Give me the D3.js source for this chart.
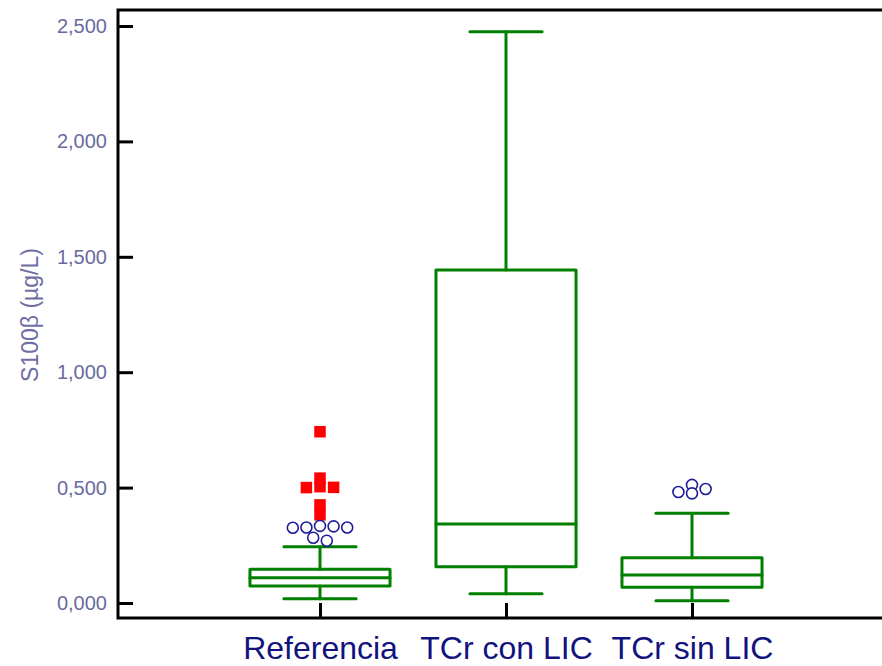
<!DOCTYPE html>
<html>
<head>
<meta charset="utf-8">
<script src="https://cdn.jsdelivr.net/npm/d3@7"></script>
<style>
  html, body { margin: 0; padding: 0; background: #fff; }
  svg { display: block; }
</style>
</head>
<body>
<svg id="chart" width="882" height="666"></svg>
<script>
// S100β by group: box-and-whisker summary plus outlying observations
const categories   = ["Referencia", "TCr con LIC", "TCr sin LIC"];
const whiskerLow   = [18, 40, 10];
const q1           = [74, 157, 68];
const median       = [109, 342, 121];
const q3           = [146, 1443, 196];
const whiskerHigh  = [244, 2475, 389];
// outside values (open circles) and far-out values (filled squares)
const outsideValues = [[334, 332, 327, 327, 326, 283, 270], [], [512, 494, 481, 475]];
const farOutValues  = [[742, 541, 504, 501, 500, 425, 382], [], []];
const yTickValues = [0, 500, 1000, 1500, 2000, 2500];
const yTickLabels = ["0,000", "0,500", "1,000", "1,500", "2,000", "2,500"];
const yTitle = "S100β (µg/L)";

const W = 882, H = 666;
const frame = { left: 118, top: 10, bottom: 618, right: 900 };
const FONT = "'Liberation Sans', Arial, Helvetica, sans-serif";
const GREEN = "#008000";

const svg = d3.select("#chart");

const y = d3.scaleLinear().domain([0, 2500]).range([603, 26]);
const x = d3.scalePoint().domain(categories).range([320, 692]);
const step = x.step();
const boxW = step * 0.753;
const capW = boxW * 0.515;

// frame: left, top and bottom sides
svg.append("path")
  .attr("d", `M${frame.right},${frame.top}H${frame.left}V${frame.bottom}H${frame.right}`)
  .attr("fill", "none").attr("stroke", "#000").attr("stroke-width", 3);

// y axis with inward ticks
const yAxis = svg.append("g")
  .attr("transform", `translate(${frame.left},0)`)
  .call(d3.axisLeft(y).tickValues(yTickValues)
    .tickFormat((d, i) => yTickLabels[i]).tickSize(-15).tickPadding(11));
yAxis.select(".domain").remove();
yAxis.selectAll(".tick line").attr("stroke", "#000").attr("stroke-width", 3);
yAxis.selectAll(".tick text")
  .attr("fill", "#6a6a9e").style("font-family", FONT).style("font-size", "20px");

// x axis with inward ticks
const xAxis = svg.append("g")
  .attr("transform", `translate(0,${frame.bottom})`)
  .call(d3.axisBottom(x).tickSize(-15).tickPadding(18));
xAxis.select(".domain").remove();
xAxis.selectAll(".tick line").attr("stroke", "#000").attr("stroke-width", 3);
xAxis.selectAll(".tick text")
  .attr("fill", "#12127e").style("font-family", FONT).style("font-size", "32px");

// y axis title
svg.append("text")
  .attr("transform", `translate(38,315) rotate(-90)`)
  .attr("text-anchor", "middle")
  .attr("fill", "#6e6ea4")
  .style("font-family", FONT).style("font-size", "23px")
  .text(yTitle);

// boxes and whiskers
const groups = svg.append("g").selectAll("g")
  .data(categories.map((c, i) => ({
    c, lo: whiskerLow[i], q1: q1[i], med: median[i], q3: q3[i], hi: whiskerHigh[i]
  })))
  .join("g")
  .attr("fill", "none").attr("stroke", GREEN).attr("stroke-width", 3)
  .attr("stroke-linejoin", "round").attr("stroke-linecap", "round");

groups.append("line")
  .attr("x1", d => x(d.c)).attr("x2", d => x(d.c))
  .attr("y1", d => y(d.q3)).attr("y2", d => y(d.hi));
groups.append("line")
  .attr("x1", d => x(d.c)).attr("x2", d => x(d.c))
  .attr("y1", d => y(d.q1)).attr("y2", d => y(d.lo));
groups.append("line")
  .attr("x1", d => x(d.c) - capW / 2).attr("x2", d => x(d.c) + capW / 2)
  .attr("y1", d => y(d.hi)).attr("y2", d => y(d.hi));
groups.append("line")
  .attr("x1", d => x(d.c) - capW / 2).attr("x2", d => x(d.c) + capW / 2)
  .attr("y1", d => y(d.lo)).attr("y2", d => y(d.lo));
groups.append("rect")
  .attr("x", d => x(d.c) - boxW / 2).attr("width", boxW)
  .attr("y", d => y(d.q3)).attr("height", d => y(d.q1) - y(d.q3));
groups.append("line")
  .attr("x1", d => x(d.c) - boxW / 2).attr("x2", d => x(d.c) + boxW / 2)
  .attr("y1", d => y(d.med)).attr("y2", d => y(d.med));

// side-by-side placement of outlying points that share a value level
const SLOT = 13.6, MIN_DY = 8;
function dodge(points) {
  const order = points.slice().sort((a, b) => b.v - a.v);
  const tries = [0, 1, -1, 2, -2, 3, -3, 4, -4];
  order.forEach(p => {
    p.py = y(p.v);
    for (const s of tries) {
      if (!order.some(q => q !== p && q.slot === s && Math.abs(q.py - p.py) < MIN_DY)) {
        p.slot = s; break;
      }
    }
  });
  // centre each run of neighbouring points
  const byY = order.slice().sort((a, b) => a.py - b.py);
  let run = [];
  const flush = () => {
    if (!run.length) return;
    const lo = d3.min(run, d => d.slot), hi = d3.max(run, d => d.slot);
    run.forEach(d => d.off = (d.slot - (lo + hi) / 2) * SLOT);
    run = [];
  };
  byY.forEach((p, i) => {
    if (i > 0 && p.py - byY[i - 1].py >= MIN_DY) flush();
    run.push(p);
  });
  flush();
  return points;
}

const outliers = [];
categories.forEach((c, i) => {
  const pts = outsideValues[i].map(v => ({ c, v, kind: "out" }))
    .concat(farOutValues[i].map(v => ({ c, v, kind: "far" })));
  dodge(pts).forEach(p => outliers.push(p));
});

const SQ = 11.5;
svg.append("g").selectAll("rect")
  .data(outliers.filter(d => d.kind === "far"))
  .join("rect")
  .attr("x", d => x(d.c) + d.off - SQ / 2).attr("y", d => y(d.v) - SQ / 2)
  .attr("width", SQ).attr("height", SQ)
  .attr("fill", "#ff0000");

svg.append("g").selectAll("circle")
  .data(outliers.filter(d => d.kind === "out"))
  .join("circle")
  .attr("cx", d => x(d.c) + d.off).attr("cy", d => y(d.v))
  .attr("r", 5.5)
  .attr("fill", "#fff").attr("stroke", "#1e1e9a").attr("stroke-width", 1.6);
</script>
</body>
</html>
